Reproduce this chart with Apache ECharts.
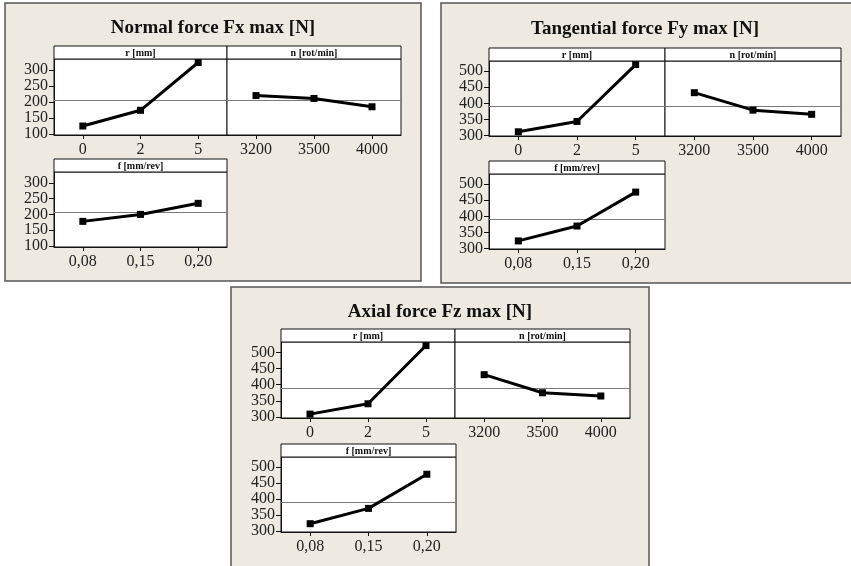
<!DOCTYPE html>
<html><head><meta charset="utf-8">
<script src="https://cdn.jsdelivr.net/npm/echarts@6/dist/echarts.min.js"></script>
<style>html,body{margin:0;padding:0;background:#fff}#c{width:851px;height:566px}</style>
</head><body><div id="c"></div>
<script>
// ---- data ----
const rLevels = ['0', '2', '5'];
const nLevels = ['3200', '3500', '4000'];
const fLevels = ['0,08', '0,15', '0,20'];

const fxR = [125, 174, 323];
const fxN = [220, 211, 185];
const fxF = [178, 200, 235];
const fxMean = 206;

const fyR = [312, 344, 520];
const fyN = [433, 379, 366];
const fyF = [324, 370, 475];
const fyMean = 391;

const fzR = [309, 341, 521];
const fzN = [431, 375, 365];
const fzF = [323, 371, 478];
const fzMean = 390;

const fxTicks = [100, 150, 200, 250, 300];
const fyTicks = [300, 350, 400, 450, 500];
const fzTicks = [300, 350, 400, 450, 500];

const titles = ['Normal force Fx max [N]', 'Tangential force Fy max [N]', 'Axial force Fz max [N]'];
const factorNames = ['r [mm]', 'n [rot/min]', 'f [mm/rev]'];

// ---- layout ----
const SERIF = "'Liberation Serif','Times New Roman',serif";
const panels = [
  { box: [5, 3, 416, 278], tx: 213, ty: 28, yMin: 97, yMax: 334, ticks: fxTicks, mean: fxMean,
    data: [fxR, fxN, fxF],
    g: [[54, 59, 173, 76], [227, 59, 174, 76], [54, 172, 173, 75]] },
  { box: [441, 3, 420, 280], tx: 645, ty: 29, yMin: 299, yMax: 531, ticks: fyTicks, mean: fyMean,
    data: [fyR, fyN, fyF],
    g: [[489, 61, 176, 75], [665, 61, 176, 75], [489, 174, 176, 75]] },
  { box: [231, 287, 418, 290], tx: 440, ty: 312, yMin: 297, yMax: 532, ticks: fzTicks, mean: fzMean,
    data: [fzR, fzN, fzF],
    g: [[281, 342, 174, 76], [455, 342, 175, 76], [281, 457, 175, 75]] }
];
const levels = [rLevels, nLevels, fLevels];
const STRIP = 13;

const grid = [], xAxis = [], yAxis = [], series = [], graphic = [];
let gi = 0;
panels.forEach((p, pi) => {
  graphic.push({ type: 'rect', z: -10, shape: { x: p.box[0], y: p.box[1], width: p.box[2], height: p.box[3] },
    style: { fill: '#EEEAE1', stroke: '#555', lineWidth: 1.5 } });
  graphic.push({ type: 'text', z: 10, x: p.tx, y: p.ty,
    style: { text: titles[pi], fill: '#111', font: 'bold 19px ' + SERIF, textAlign: 'center', textVerticalAlign: 'middle' } });
  p.g.forEach((gg, k) => {
    grid.push({ left: gg[0], top: gg[1], width: gg[2], height: gg[3], show: true,
      backgroundColor: '#fff', borderColor: '#111', borderWidth: 1 });
    graphic.push({ type: 'rect', z: 20, shape: { x: gg[0], y: gg[1] - STRIP, width: gg[2], height: STRIP },
      style: { fill: '#fff', stroke: '#111', lineWidth: 1 } });
    graphic.push({ type: 'text', z: 21, x: gg[0] + gg[2] / 2, y: gg[1] - STRIP / 2 + 0.5,
      style: { text: factorNames[k], fill: '#111', font: 'bold 10px ' + SERIF, textAlign: 'center', textVerticalAlign: 'middle' } });
    xAxis.push({ type: 'category', gridIndex: gi, data: levels[k], boundaryGap: true,
      axisLine: { show: true, lineStyle: { color: '#111', width: 1 } },
      axisTick: { show: true, alignWithLabel: true, length: 4, lineStyle: { color: '#111' } },
      axisLabel: { color: '#222', fontFamily: SERIF, fontSize: 16, margin: 7, interval: 0 },
      splitLine: { show: false } });
    const showY = k !== 1;
    yAxis.push({ type: 'value', gridIndex: gi, min: p.yMin, max: p.yMax, show: showY,
      axisLine: { show: true, lineStyle: { color: '#111', width: 1 } },
      axisTick: { show: true, length: 5, customValues: p.ticks, lineStyle: { color: '#111' } },
      axisLabel: { color: '#222', fontFamily: SERIF, fontSize: 16, margin: 6, customValues: p.ticks },
      splitLine: { show: false } });
    series.push({ type: 'line', xAxisIndex: gi, yAxisIndex: gi, data: p.data[k],
      symbol: 'rect', symbolSize: 7, z: 5,
      lineStyle: { color: '#000', width: 3 }, itemStyle: { color: '#000' },
      markLine: { silent: true, symbol: 'none', label: { show: false }, z: 1,
        lineStyle: { color: '#7a7a7a', type: 'solid', width: 1.2 },
        data: [{ yAxis: p.mean }] } });
    gi++;
  });
});

const chart = echarts.init(document.getElementById('c'), null, { renderer: 'canvas' });
chart.setOption({ animation: false, backgroundColor: '#fff', grid, xAxis, yAxis, series, graphic });
</script>
</body></html>
